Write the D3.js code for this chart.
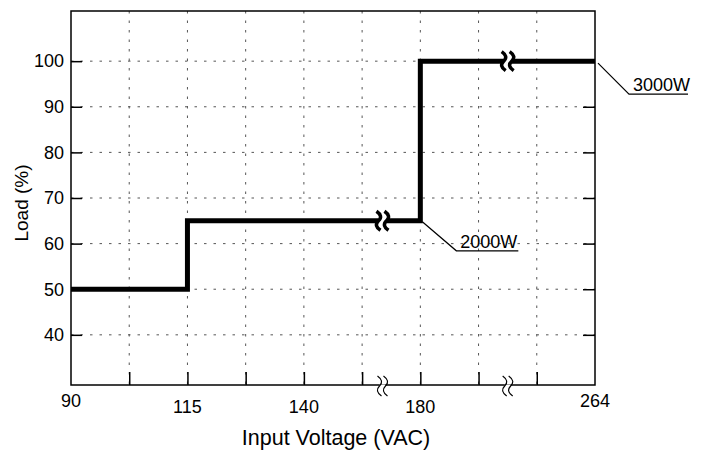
<!DOCTYPE html>
<html><head><meta charset="utf-8">
<script src="https://cdn.jsdelivr.net/npm/d3@7/dist/d3.min.js"></script>
<style>
html,body{margin:0;padding:0;background:#fff;}
svg{display:block;font-family:"Liberation Sans",Arial,Helvetica,sans-serif;}
</style></head>
<body><svg id="c" width="707" height="450"></svg>
<script>
// ---- data ----
const xTickVoltages = [90, 115, 140, 180, 264];      // labelled voltages
const xTickSlots    = [0, 2, 4, 6, 9];               // grid slot of each labelled voltage
const gridSlots     = [1, 2, 3, 4, 5, 6, 7, 8];      // vertical grid lines / ticks
const yTicks        = [40, 50, 60, 70, 80, 90, 100];
const stepVoltage   = [90, 115, 115, 180, 180, 264];
const stepLoad      = [50, 50, 65, 65, 100, 100];
const breakVoltages = [167, 222];                    // axis break marks
const lineBreaks    = [{v:167, load:65}, {v:222, load:100}];
const labels        = [{text:"3000W", v:264, load:100}, {text:"2000W", v:180, load:65}];

// ---- layout ----
const L = 71, R = 595, T = 11, B = 385;
const svg = d3.select("#c");
const slot = d3.scaleLinear().domain([0, 9]).range([L, R]);
const x = d3.scaleLinear().domain(xTickVoltages).range(xTickSlots.map(s => slot(s)));
const y = d3.scaleLinear().domain([29, 111]).range([B, T]);

// grid
const grid = svg.append("g").attr("stroke", "#555").attr("stroke-width", 1).attr("stroke-dasharray", "2.5,7");
grid.selectAll("line.h").data(yTicks).join("line")
  .attr("x1", L).attr("x2", R).attr("y1", d => y(d)).attr("y2", d => y(d));
grid.selectAll("line.v").data(gridSlots).join("line")
  .attr("y1", T).attr("y2", B).attr("x1", d => slot(d)).attr("x2", d => slot(d));

// y axes (ticks inward, both sides)
const yl = svg.append("g").attr("transform", `translate(${L},0)`)
  .call(d3.axisRight(y).tickValues(yTicks).tickSize(11).tickFormat(""));
const yr = svg.append("g").attr("transform", `translate(${R},0)`)
  .call(d3.axisLeft(y).tickValues(yTicks).tickSize(12).tickFormat(""));
[yl, yr].forEach(g => { g.select(".domain").remove(); g.selectAll("line").attr("stroke", "#000").attr("stroke-width", 1.5); });

svg.append("g").selectAll("text").data(yTicks).join("text")
  .attr("x", L - 7).attr("y", d => y(d)).attr("dy", "0.35em")
  .attr("text-anchor", "end").attr("font-size", 18).attr("fill", "#000").text(d => d);

// x axis ticks (upward)
const xa = svg.append("g").attr("transform", `translate(0,${B})`)
  .call(d3.axisTop(slot).tickValues(gridSlots).tickSize(13).tickFormat(""));
xa.select(".domain").remove();
xa.selectAll("line").attr("stroke", "#000").attr("stroke-width", 1.5);

svg.append("g").selectAll("text").data(xTickVoltages).join("text")
  .attr("x", d => x(d))
  .attr("y", (d, i) => (i === 0 || i === xTickVoltages.length - 1) ? B + 22 : B + 28)
  .attr("text-anchor", "middle").attr("font-size", 18).attr("fill", "#000").text(d => d);

// frame
svg.append("rect").attr("x", L).attr("y", T).attr("width", R - L).attr("height", B - T)
  .attr("fill", "none").attr("stroke", "#000").attr("stroke-width", 1.5);

// step line
const pts = stepVoltage.map((v, i) => [x(v), y(stepLoad[i])]);
svg.append("path").attr("d", d3.line()(pts)).attr("fill", "none")
  .attr("stroke", "#000").attr("stroke-width", 5).attr("stroke-linejoin", "miter");

function sCurve(cx, cy, h) {
  return `M${cx - 2},${cy - h} Q${cx + 5},${cy - h / 2} ${cx},${cy} Q${cx - 5},${cy + h / 2} ${cx + 2},${cy + h}`;
}
function breakMark(cx, cy, gap, h, w, gapH) {
  svg.append("rect").attr("x", cx - gap / 2).attr("y", cy - gapH / 2).attr("width", gap).attr("height", gapH).attr("fill", "#fff");
  [-gap / 2, gap / 2].forEach(o => svg.append("path").attr("d", sCurve(cx + o, cy, h))
    .attr("fill", "none").attr("stroke", "#000").attr("stroke-width", w));
}
lineBreaks.forEach(b => breakMark(x(b.v), y(b.load), 8, 9.5, 3.5, 7));
breakVoltages.forEach(v => breakMark(x(v), B + 1, 6, 10, 1.2, 3));

// annotations
const ann = [
  {lead:[3, 2], elbow:[34, 33], end:93},
  {lead:[2, 1], elbow:[36, 30], end:98}
];
labels.forEach((lb, i) => {
  const ax = x(lb.v), ay = y(lb.load), a = ann[i];
  svg.append("path")
    .attr("d", `M${ax + a.lead[0]},${ay + a.lead[1]} L${ax + a.elbow[0]},${ay + a.elbow[1]} L${ax + a.end},${ay + a.elbow[1]}`)
    .attr("fill", "none").attr("stroke", "#000").attr("stroke-width", 1.2);
  svg.append("text").attr("x", ax + a.elbow[0] + 4).attr("y", ay + a.elbow[1] - 3)
    .attr("font-size", 18).attr("fill", "#000").text(lb.text);
});

// axis titles
svg.append("text").attr("x", (L + R) / 2 + 3).attr("y", 445).attr("text-anchor", "middle")
  .attr("font-size", 21.5).attr("fill", "#000").text("Input Voltage (VAC)");
svg.append("text").attr("transform", `translate(28,${(T + B) / 2 + 5}) rotate(-90)`)
  .attr("text-anchor", "middle").attr("font-size", 19).attr("fill", "#000").text("Load (%)");
</script></body></html>
